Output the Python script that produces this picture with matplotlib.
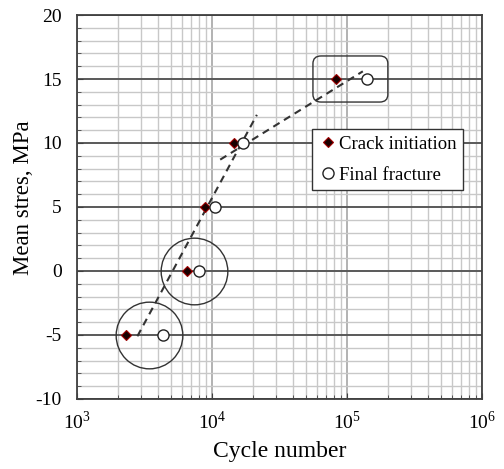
import numpy as np
import matplotlib
matplotlib.use('Agg')
import matplotlib.pyplot as plt
from matplotlib.patches import FancyBboxPatch
from matplotlib.ticker import LogLocator, MultipleLocator, FixedLocator, FixedFormatter, NullFormatter

plt.rcParams['font.family'] = ['Liberation Serif', 'DejaVu Serif']
plt.rcParams['mathtext.fontset'] = 'custom'
plt.rcParams['mathtext.rm'] = 'Liberation Serif'
plt.rcParams['axes.unicode_minus'] = False

# data
stress = [-5, 0, 5, 10, 15]
crack_init = [2300, 6500, 8900, 14500, 83000]
final_frac = [4300, 8000, 10500, 17000, 140000]

# trend lines (dashed)
steep_x = [2800, 21500]
steep_y = [-5.1, 12.2]
shallow_x = [11500, 131000]
shallow_y = [8.7, 15.6]

# highlighted groups
circle_x = [3400, 7300]
circle_y = [-5, 0]
box_center = (106000, 15)

x_ticks = [1e3, 1e4, 1e5, 1e6]
x_labels = [r'10$^{3}$', r'10$^{4}$', r'10$^{5}$', r'10$^{6}$']

fig = plt.figure(figsize=(5.04, 4.69), dpi=100)
ax = fig.add_axes([0.1528, 0.1493, 0.8035, 0.8187])

ax.set_xscale('log')
ax.set_xlim(1e3, 1e6)
ax.set_ylim(-10, 20)

ax.yaxis.set_major_locator(MultipleLocator(5))
ax.yaxis.set_minor_locator(MultipleLocator(1))
ax.xaxis.set_major_locator(FixedLocator(x_ticks))
ax.xaxis.set_major_formatter(FixedFormatter(x_labels))
ax.xaxis.set_minor_locator(LogLocator(base=10, subs=np.arange(2, 10)))
ax.xaxis.set_minor_formatter(NullFormatter())

ax.grid(which='minor', color='#c8c8c8', lw=1.0)
ax.grid(which='major', axis='x', color='#a6a6a6', lw=1.2)
ax.grid(which='major', axis='y', color='#595959', lw=1.4)
ax.set_axisbelow(True)

for s in ax.spines.values():
    s.set_color('#404040')
    s.set_linewidth(1.3)

ax.tick_params(which='both', direction='in', color='#404040', labelsize=14)
ax.tick_params(which='major', length=4)
ax.tick_params(which='minor', length=3)
ax.tick_params(axis='x', pad=8)
ax.tick_params(axis='y', pad=11)

ax.plot(steep_x, steep_y, '--', color='#333333', lw=1.5, dashes=(3.5, 2.5), zorder=3)
ax.plot(shallow_x, shallow_y, '--', color='#333333', lw=1.5, dashes=(3.5, 2.5), zorder=3)

ax.plot(crack_init, stress, 'D', ms=5.5, mfc='#1a0000', mec='#a00000', mew=0.8,
        ls='none', label='Crack initiation', zorder=4)
ax.plot(final_frac, stress, 'o', ms=8, mfc='white', mec='#222222', mew=1.0,
        ls='none', label='Final fracture', zorder=4)

ax.plot(circle_x, circle_y, 'o', ms=48, mfc='none', mec='#333333', mew=1.0,
        ls='none', zorder=3)

# rounded box around the top pair, in axes fraction
bx = (np.log10(box_center[0]) - 3) / 3
by = (box_center[1] + 10) / 30
bw, bh = 0.185, 0.12
box = FancyBboxPatch((bx - bw / 2, by - bh / 2), bw, bh,
                     boxstyle='round,pad=0,rounding_size=0.02',
                     transform=ax.transAxes, fc='none', ec='#333333', lw=1.0, zorder=3)
ax.add_patch(box)

leg = ax.legend(loc='upper left', bbox_to_anchor=(0.580, 0.703), fontsize=13.5,
                frameon=True, fancybox=False, handletextpad=0.1, handlelength=1.0,
                borderpad=0.35, labelspacing=0.75, borderaxespad=0)
leg.get_frame().set_edgecolor('#333333')
leg.get_frame().set_linewidth(1.0)
leg.get_frame().set_alpha(1)

ax.set_xlabel('Cycle number', fontsize=17, labelpad=6)
ax.set_ylabel('Mean stres, MPa', fontsize=16.5)
ax.yaxis.set_label_coords(-0.106, 0.523)

fig.savefig('out.png', dpi=100)
